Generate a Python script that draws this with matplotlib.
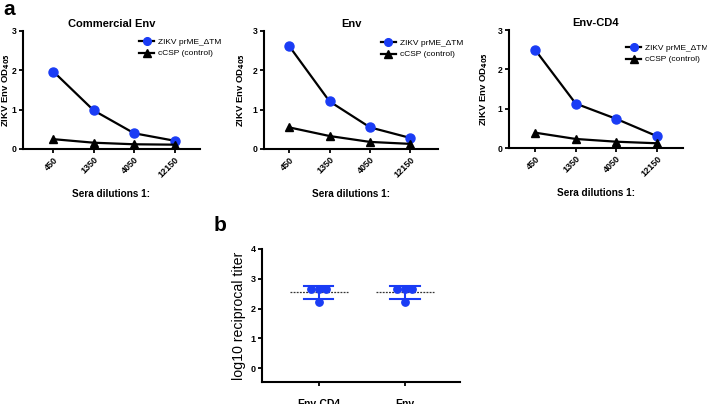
import numpy as np
import matplotlib
matplotlib.use("Agg")
import matplotlib.pyplot as plt

plt.rcParams['font.family'] = ['Liberation Sans', 'DejaVu Sans']

# ---- data ----
dilutions = ["450", "1350", "4050", "12150"]
titles = ["Commercial Env", "Env", "Env-CD4"]
zikv = [[1.97, 0.98, 0.40, 0.21],
        [2.62, 1.21, 0.55, 0.28],
        [2.50, 1.13, 0.74, 0.30]]
ccsp = [[0.25, 0.16, 0.12, 0.11],
        [0.55, 0.33, 0.18, 0.13],
        [0.39, 0.23, 0.16, 0.12]]

groups = ["Env-CD4", "Env"]
titer_vals = [[2.66, 2.66, 2.66, 2.22],
              [2.66, 2.66, 2.66, 2.22]]
titer_offsets = [-0.087, 0.0, 0.087, 0.0]

W, H = 707, 404
fig = plt.figure(figsize=(W / 100, H / 100), dpi=100)
blue = '#1a3cf5'

def px_axes(l, t, r, b):
    return fig.add_axes([l / W, 1 - b / H, (r - l) / W, (b - t) / H])

def style(ax):
    for s in ['top', 'right']:
        ax.spines[s].set_visible(False)
    for s in ['left', 'bottom']:
        ax.spines[s].set_linewidth(1.5)
    ax.tick_params(width=1.3, length=3, direction='out', pad=1.5)
    for lab in ax.get_xticklabels() + ax.get_yticklabels():
        lab.set_fontweight('bold')

boxes = [(23, 31, 200, 149), (264, 31, 438, 149), (509, 30, 683, 148)]
xlims = [(-0.75, 3.63), (-0.62, 3.68), (-0.64, 3.64)]
leg_px = [(139, 38), (381, 39), (626, 44)]
ylab_off = [-11, -17, -19]

x = np.arange(len(dilutions))
for i in range(3):
    ax = px_axes(*boxes[i])
    ax.plot(x, zikv[i], color='black', lw=1.6, marker='o', ms=6.5,
            mfc=blue, mec=blue, label='ZIKV prME_ΔTM', zorder=3)
    ax.plot(x, ccsp[i], color='black', lw=1.6, marker='^', ms=6,
            mfc='black', mec='black', label='cCSP (control)', zorder=3)
    ax.set_xlim(*xlims[i])
    ax.set_ylim(0, 3)
    ax.set_yticks([0, 1, 2, 3])
    ax.set_xticks(x)
    ax.set_xticklabels(dilutions, rotation=45, ha='right', rotation_mode='anchor',
                       fontsize=6.5)
    ax.tick_params(axis='y', labelsize=6.2)
    ax.set_title(titles[i], fontsize=8.0, fontweight='bold', pad=3)
    ax.set_ylabel('ZIKV Env OD$_{\\mathbf{405}}$', fontsize=6.8, fontweight='bold')
    w = boxes[i][2] - boxes[i][0]
    ax.yaxis.set_label_coords(ylab_off[i] / w, 0.5)
    ax.set_xlabel('Sera dilutions 1:', fontsize=7.2, fontweight='bold', labelpad=7)
    ax.legend(loc='upper left', bbox_to_anchor=(leg_px[i][0] / W, 1 - leg_px[i][1] / H),
              bbox_transform=fig.transFigure, frameon=False, borderpad=0,
              fontsize=6, handlelength=1.8, borderaxespad=0, labelspacing=0.45,
              handletextpad=0.5, markerscale=0.85)
    style(ax)

fig.text(3 / W, 1 - 15 / H, 'a', fontsize=15, fontweight='bold')
fig.text(214 / W, 1 - 231 / H, 'b', fontsize=15, fontweight='bold')

# ---- panel b ----
axb = px_axes(262, 249, 460, 382)
for g in range(len(groups)):
    vals = np.array(titer_vals[g])
    m = vals.mean()
    sd = vals.std(ddof=1)
    axb.scatter(g + np.array(titer_offsets), vals, s=28, color=blue, zorder=3)
    axb.plot([g - 0.34, g + 0.34], [m, m], ls=(0, (1.5, 1)), color='#333333', lw=0.9)
    axb.errorbar(g, m, yerr=sd, fmt='none', ecolor=blue, elinewidth=1.5,
                 capsize=0, zorder=2)
    for yy in (m - sd, m + sd):
        axb.plot([g - 0.17, g + 0.17], [yy, yy], color=blue, lw=1.5)
axb.set_xlim(-0.66, 1.64)
axb.set_ylim(-0.47, 4)
axb.set_yticks([0, 1, 2, 3, 4])
axb.set_xticks(range(len(groups)))
axb.set_xticklabels(groups, fontsize=7.5)
style(axb)
axb.tick_params(axis='y', labelsize=6.5)
axb.tick_params(axis='x', pad=9)
axb.set_ylabel('log10 reciprocal titer', fontsize=10.2, labelpad=3)

fig.savefig('out.png', dpi=100)
